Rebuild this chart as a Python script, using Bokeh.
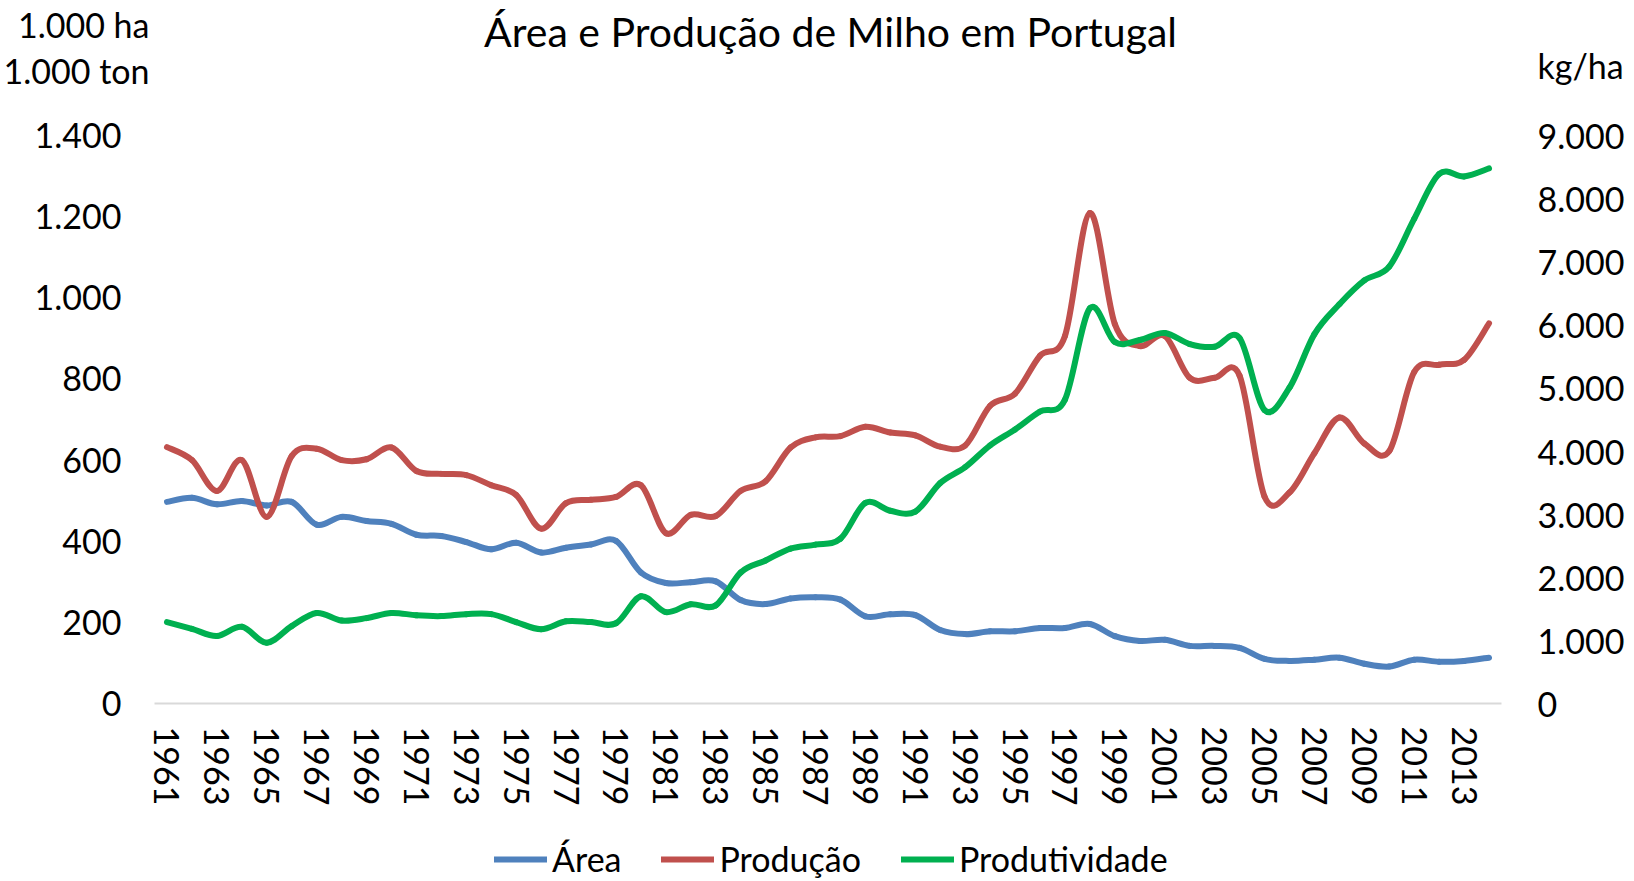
import numpy as np
from bokeh.plotting import figure
from bokeh.layouts import column
from bokeh.models import Range1d, LinearAxis, FixedTicker, Label, Legend, LegendItem
from bokeh.embed import file_html
from bokeh.resources import INLINE

years = list(range(1961, 2015))
area = [497, 507, 491, 499, 488, 497, 441, 460, 450, 443, 416, 413, 398, 380, 396,
        372, 384, 392, 401, 323, 297, 299, 301, 255, 245, 259, 262, 256, 215, 220,
        218, 181, 171, 178, 178, 186, 186, 196, 166, 154, 157, 142, 142, 137, 110,
        105, 108, 113, 98, 91, 108, 103, 105, 113]
producao = [632, 600, 524, 600, 460, 610, 628, 600, 602, 631, 573, 566, 563, 538, 514,
            431, 494, 502, 509, 538, 420, 465, 462, 524, 548, 631, 656, 659, 682, 668,
            661, 633, 636, 734, 764, 857, 906, 1209, 935, 881, 906, 803, 803, 808, 510,
            520, 617, 705, 641, 622, 817, 835, 847, 937]
produtividade = [1290, 1183, 1070, 1215, 963, 1227, 1435, 1315, 1353, 1435, 1397, 1385,
                 1416, 1416, 1290, 1177, 1303, 1290, 1271, 1699, 1448, 1573, 1555, 2077,
                 2266, 2455, 2518, 2612, 3178, 3053, 3040, 3493, 3745, 4091, 4343, 4626,
                 4815, 6262, 5727, 5759, 5872, 5696, 5652, 5790, 4650, 5004, 5853, 6325,
                 6703, 6923, 7679, 8390, 8352, 8478]
left_ticks = [0, 200, 400, 600, 800, 1000, 1200, 1400]
right_ticks = [0, 1000, 2000, 3000, 4000, 5000, 6000, 7000, 8000, 9000]
x_ticks = list(range(1961, 2014, 2))
series_names = ["Área", "Produção", "Produtividade"]
series_colors = ["#4F81BD", "#C0504D", "#00B050"]
title_text = "Área e Produção de Milho em Portugal"
left_units = ["1.000 ha", "1.000 ton"]
right_units = "kg/ha"

FONT = "Lato"
TXT = "#000000"
FS = "34px"
LW = 6

# layout (pixels)
W = 1632
H_MAIN, H_LEG = 828, 52
FRAME_LEFT, FRAME_RIGHT = 151, 1501
FRAME_TOP, FRAME_BOTTOM = 5, 703
PLOT_TOP = 135            # where the top tick (1.400 / 9.000) sits
scale = (FRAME_BOTTOM - FRAME_TOP) / (FRAME_BOTTOM - PLOT_TOP)
L_MAX, R_MAX = left_ticks[-1], right_ticks[-1]


def px_to_left(y):
    return (FRAME_BOTTOM - y) / (FRAME_BOTTOM - PLOT_TOP) * L_MAX


def px_to_right(y):
    return (FRAME_BOTTOM - y) / (FRAME_BOTTOM - PLOT_TOP) * R_MAX


def fmt(v):
    return f"{v:,}".replace(",", ".")


def smooth(x, y):
    """Bezier segments (Excel-style smoothed line) through the data points."""
    x = np.asarray(x, float)
    y = np.asarray(y, float)
    n = len(x)
    xp = np.concatenate([[x[0]], x, [x[-1]]])
    yp = np.concatenate([[y[0]], y, [y[-1]]])
    return dict(
        x0=xp[1:n], y0=yp[1:n], x1=xp[2:n + 1], y1=yp[2:n + 1],
        cx0=xp[1:n] + (xp[2:n + 1] - xp[0:n - 1]) / 6,
        cy0=yp[1:n] + (yp[2:n + 1] - yp[0:n - 1]) / 6,
        cx1=xp[2:n + 1] - (xp[3:n + 2] - xp[1:n]) / 6,
        cy1=yp[2:n + 1] - (yp[3:n + 2] - yp[1:n]) / 6,
    )


sources = [smooth(years, area), smooth(years, producao), smooth(years, produtividade)]

p = figure(width=W, height=H_MAIN, output_backend="svg", toolbar_location=None,
           x_range=Range1d(years[0] - 0.5, years[-1] + 0.5),
           y_range=Range1d(0, L_MAX * scale),
           min_border_left=FRAME_LEFT, min_border_right=W - FRAME_RIGHT,
           min_border_top=FRAME_TOP, min_border_bottom=H_MAIN - FRAME_BOTTOM)
p.extra_y_ranges = {"kg": Range1d(0, R_MAX * scale)}
p.outline_line_color = None
p.xgrid.grid_line_color = None
p.ygrid.grid_line_color = None
p.background_fill_color = "white"
p.border_fill_color = "white"

# x axis
xa = p.xaxis[0]
xa.ticker = FixedTicker(ticks=x_ticks)
xa.major_label_overrides = {t: str(t) for t in x_ticks}
xa.major_label_orientation = "vertical"
xa.axis_line_color = "#d9d9d9"
xa.axis_line_width = 2
xa.major_tick_line_color = None
xa.minor_tick_line_color = None
xa.major_tick_out = 0
xa.major_label_standoff = 23
xa.major_label_text_font = FONT
xa.major_label_text_font_size = FS
xa.major_label_text_color = TXT

# left value axis
ya = p.yaxis[0]
ya.ticker = FixedTicker(ticks=left_ticks)
ya.major_label_overrides = {t: fmt(t) for t in left_ticks}

# left unit caption (outer axis carrying only the two caption lines)
unit_ticks = [px_to_left(24), px_to_left(70)]
ua = LinearAxis(ticker=FixedTicker(ticks=unit_ticks))
ua.major_label_overrides = {unit_ticks[0]: left_units[0], unit_ticks[1]: left_units[1]}
p.add_layout(ua, "left")

# right value axis (+ unit caption)
kg_tick = px_to_right(65)
ra = LinearAxis(y_range_name="kg", ticker=FixedTicker(ticks=right_ticks + [kg_tick]))
ra.major_label_overrides = {**{t: fmt(t) for t in right_ticks}, kg_tick: right_units}
p.add_layout(ra, "right")

for ax, so in ((ya, 33), (ua, -118), (ra, 36)):
    ax.axis_line_color = None
    ax.major_tick_line_color = None
    ax.minor_tick_line_color = None
    ax.major_tick_out = 0
    ax.major_tick_in = 0
    ax.major_label_standoff = so
    ax.major_label_text_font = FONT
    ax.major_label_text_font_size = FS
    ax.major_label_text_color = TXT

common = dict(x0="x0", y0="y0", x1="x1", y1="y1", cx0="cx0", cy0="cy0",
              cx1="cx1", cy1="cy1", line_width=LW, line_cap="round")
p.bezier(source=sources[0], line_color=series_colors[0], **common)
p.bezier(source=sources[1], line_color=series_colors[1], **common)
p.bezier(source=sources[2], line_color=series_colors[2], y_range_name="kg", **common)

title = Label(x=827 - FRAME_LEFT, y=FRAME_BOTTOM - 31, x_units="screen", y_units="screen",
              text=title_text, text_align="center", text_baseline="middle",
              text_font=FONT, text_font_size="41px", text_color=TXT)
p.add_layout(title)

# legend strip below the chart (its frame is aligned with the chart's frame);
# the series are repeated here only as legend sources and fall outside its ranges
pl = figure(width=W, height=H_LEG, output_backend="svg", toolbar_location=None,
            x_range=Range1d(0, 1), y_range=Range1d(0, 1),
            x_axis_location=None, y_axis_location=None,
            min_border_left=FRAME_LEFT, min_border_right=W - FRAME_RIGHT,
            min_border_top=0, min_border_bottom=0)
pl.outline_line_color = None
pl.grid.visible = False
pl.background_fill_color = "white"
pl.border_fill_color = "white"
items = []
for name, col, src in zip(series_names, series_colors, sources):
    r = pl.bezier(source=src, line_color=col, **common)
    items.append(LegendItem(label=name, renderers=[r]))
legend = Legend(items=items, orientation="horizontal", location=(491 - FRAME_LEFT, 1),
                glyph_width=53, glyph_height=20, label_standoff=5, spacing=40,
                padding=0, margin=0, border_line_color=None,
                background_fill_alpha=0, label_text_font=FONT,
                label_text_font_size=FS, label_text_color=TXT)
pl.add_layout(legend)

layout = column(p, pl, spacing=0)
open("out.html", "w").write(file_html(layout, INLINE))
